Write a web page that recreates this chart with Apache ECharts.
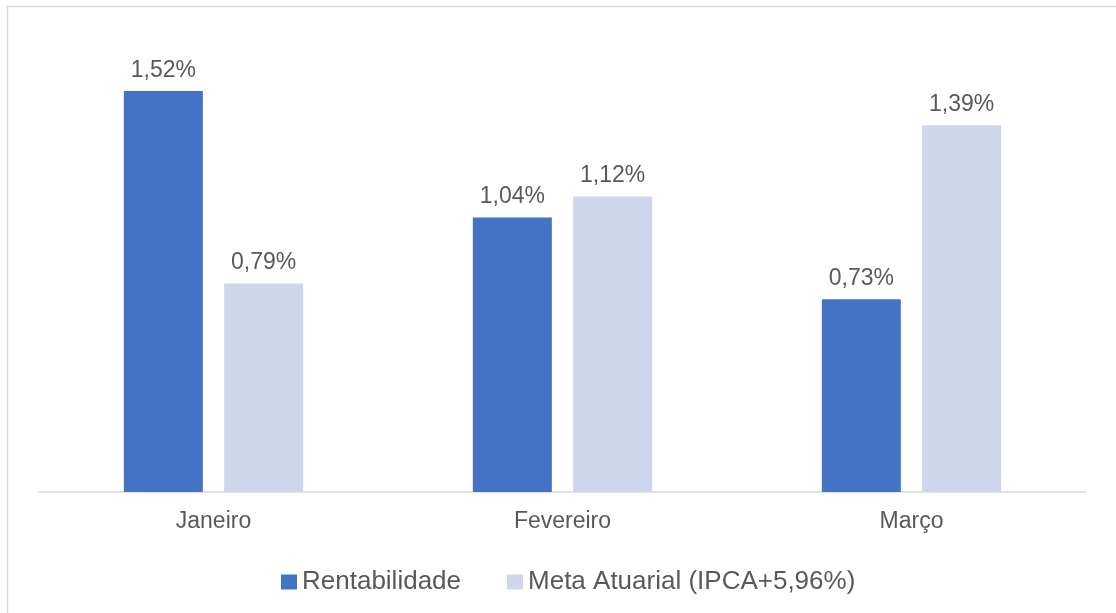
<!DOCTYPE html>
<html>
<head>
<meta charset="utf-8">
<script src="https://cdn.jsdelivr.net/npm/echarts@6/dist/echarts.min.js"></script>
<style>
  html, body { margin: 0; padding: 0; background: #fff; }
  #chart { width: 1116px; height: 613px; }
</style>
</head>
<body>
<div id="chart"></div>
<script>
// dados do gráfico
const meses = ['Janeiro', 'Fevereiro', 'Março']
const rentabilidade = [1.52, 1.04, 0.73]
const metaAtuarial = [0.79, 1.12, 1.39]
const seriesNames = ['Rentabilidade', 'Meta Atuarial (IPCA+5,96%)']

const chart = echarts.init(document.getElementById('chart'))

const fmt = p => p.value.toFixed(2).replace('.', ',') + '%'

chart.setOption({
  animation: false,
  textStyle: { fontFamily: 'Liberation Sans, Arial, sans-serif' },
  graphic: [{
    type: 'rect',
    shape: { x: 7.5, y: 6.5, width: 1200, height: 700 },
    style: { fill: 'none', stroke: '#D9D9D9', lineWidth: 1.5 },
    silent: true
  }],
  grid: { left: 39, right: 30, top: 17, bottom: 121 },
  legend: {
    data: seriesNames,
    left: 276,
    top: 564,
    itemWidth: 16,
    itemHeight: 15,
    itemGap: 46,
    icon: 'rect',
    textStyle: { color: '#595959', fontSize: 26 }
  },
  xAxis: {
    type: 'category',
    data: meses,
    axisLine: { lineStyle: { color: '#D9D9D9', width: 1.5 } },
    axisTick: { show: false },
    axisLabel: { color: '#595959', fontSize: 23, margin: 18 }
  },
  yAxis: {
    type: 'value',
    min: 0,
    max: 1.8,
    show: false,
    splitLine: { show: false }
  },
  series: [
    {
      name: seriesNames[0],
      type: 'bar',
      data: rentabilidade,
      barWidth: 79,
      barGap: '27%',
      itemStyle: { color: '#4472C4' },
      label: { show: true, position: 'top', distance: 9, color: '#595959', fontSize: 23, formatter: fmt }
    },
    {
      name: seriesNames[1],
      type: 'bar',
      data: metaAtuarial,
      barWidth: 79,
      itemStyle: { color: '#CFD5EA' },
      label: { show: true, position: 'top', distance: 9, color: '#595959', fontSize: 23, formatter: fmt }
    }
  ]
})
</script>
</body>
</html>
